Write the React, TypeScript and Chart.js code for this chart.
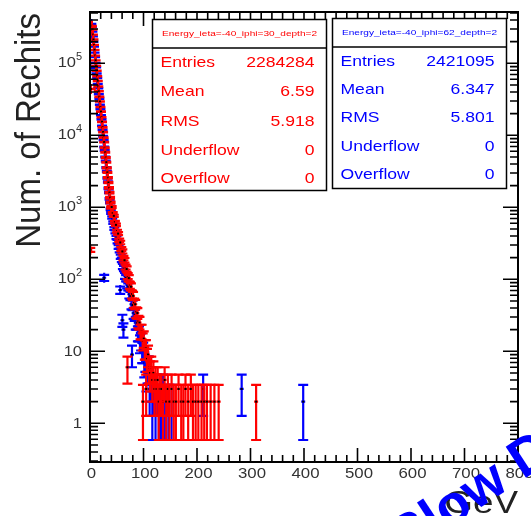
import React, { useEffect, useRef } from 'react';
import { Chart, registerables } from 'chart.js';

Chart.register(...registerables);

// ---------------- data (bin centre in GeV, bin content) ----------------
const blueX = [
  0.5, 1.5, 2.5, 3.5, 4.5, 5.5, 6.5, 7.5, 8.5, 9.5,
  10.5, 11.5, 12.5, 13.5, 14.5, 15.5, 16.5, 17.5, 18.5, 19.5,
  20.5, 21.5, 22.5, 23.5, 24.5, 25.5, 26.5, 27.5, 28.5, 29.5,
  30.5, 31.5, 32.5, 33.5, 34.5, 35.5, 36.5, 37.5, 38.5, 39.5,
  41.5, 43.5, 45.5, 47.5, 49.5, 51.5, 53.5, 55.5, 57.5, 59.5,
  61.5, 63.5, 65.5, 67.5, 69.5, 71.5, 73.5, 75.5, 77.5, 79.5,
  81.5, 83.5, 85.5, 87.5, 89.5, 91.5, 93.5, 95.5, 97.5, 99.5,
  101.5, 103.5, 105.5, 107.5,
  26.5, 56.5, 60.5, 62.5, 78.5,
  109.5, 111.5, 113.5, 116.5, 119.5, 122.5, 125.5, 128.5, 132.5, 136.5,
  140.5, 146.5, 152.5, 211.5, 283.5, 398.5,
];
const blueY = [
  86000, 246000, 352000, 321000, 276000, 236000, 199000, 171000, 141000, 122000,
  101000, 88000, 72000, 62500, 51800, 45200, 37100, 32300, 26600, 23100,
  19000, 16600, 13500, 11900, 9700, 8600, 6900, 6150, 5000, 4380,
  3560, 3150, 2560, 2250, 1830, 1610, 1310, 1170, 940, 840,
  720, 612, 508, 455, 381, 334, 281, 252, 206, 187,
  151, 142, 112, 104, 84, 79, 62, 59, 45, 44,
  34, 32, 25, 25, 18, 18, 13, 14, 10, 10,
  7, 8, 5, 6,
  105, 71, 27, 20, 9,
  6, 3, 4, 2, 3, 2, 3, 2, 2, 3,
  2, 2, 2, 3, 3, 2,
];

const redX = [
  0.5, 1.5, 2.5, 3.5, 4.5, 5.5, 6.5, 7.5, 8.5, 9.5,
  10.5, 11.5, 12.5, 13.5, 14.5, 15.5, 16.5, 17.5, 18.5, 19.5,
  20.5, 21.5, 22.5, 23.5, 24.5, 25.5, 26.5, 27.5, 28.5, 29.5,
  30.5, 31.5, 32.5, 33.5, 34.5, 35.5, 36.5, 37.5, 38.5, 39.5,
  40.5, 42.5, 44.5, 46.5, 48.5, 50.5, 52.5, 54.5, 56.5, 58.5,
  60.5, 62.5, 64.5, 66.5, 68.5, 70.5, 72.5, 74.5, 76.5, 78.5,
  80.5, 82.5, 84.5, 86.5, 88.5, 90.5, 92.5, 94.5, 96.5, 98.5,
  100.5, 102.5, 104.5, 106.5, 108.5, 110.5,
  70.0, 99.0, 105.0,
  112.5, 114.5, 116.5, 118.5, 120.5, 122.5, 124.5, 126.5, 128.5, 130.5,
  133.5, 136.5, 139.5, 142.5, 145.5, 148.5, 152.5, 156.5, 160.5, 165.5,
  170.5, 174.5, 178.5, 183.5, 188.5, 192.5, 197.5, 202.5, 208.5, 213.5,
  218.5, 225.5, 232.5, 240.5, 310.5,
];
const redY = [
  257, 44000, 318000, 332000, 293000, 250000, 214000, 180000, 154000, 128000,
  110000, 92000, 79000, 66000, 56600, 47500, 40800, 34200, 29400, 24700,
  21300, 17800, 15400, 12900, 11100, 9300, 8050, 6700, 5800, 4900,
  4230, 3520, 3050, 2570, 2210, 1860, 1600, 1360, 1170, 990,
  1010, 832, 761, 622, 570, 466, 431, 349, 325, 263,
  244, 197, 184, 148, 139, 111, 104, 83, 79, 62,
  59, 47, 45, 35, 34, 26, 25, 19, 19, 14,
  15, 11, 11, 8, 9, 6,
  6, 2, 3,
  5, 6, 4, 5, 3, 4, 3, 4, 2, 3,
  3, 2, 4, 2, 3, 2, 3, 2, 2, 3,
  2, 2, 3, 2, 3, 2, 2, 2, 2, 2,
  2, 2, 2, 2, 2,
];

const xTickValues = [0, 100, 200, 300, 400, 500, 600, 700, 800];
const xTickLabels = ['0', '100', '200', '300', '400', '500', '600', '700', '800'];
const yDecades = [0, 1, 2, 3, 4, 5];
const yDecadeLabels = [['1', ''], ['10', ''], ['10', '2'], ['10', '3'], ['10', '4'], ['10', '5']];

const redTitle = 'Energy_ieta=-40_iphi=30_depth=2';
const blueTitle = 'Energy_ieta=-40_iphi=62_depth=2';
const statNames = ['Entries', 'Mean', 'RMS', 'Underflow', 'Overflow'];
const redStatValues = ['2284284', '6.59', '5.918', '0', '0'];
const blueStatValues = ['2421095', '6.347', '5.801', '0', '0'];

const yTitle = 'Num. of Rechits';
const xTitle = 'GeV';
const watermark = 'Slow D';

const RED = 'rgb(255,0,0)';
const BLUE = 'rgb(0,0,255)';
const FONT = '"Liberation Sans", Arial, Helvetica, sans-serif';

function drawText(
  ctx: CanvasRenderingContext2D, text: string, x: number, y: number,
  font: string, color: string, align: CanvasTextAlign, sx = 1.15,
  baseline: CanvasTextBaseline = 'middle',
) {
  ctx.save();
  ctx.font = font;
  ctx.fillStyle = color;
  ctx.textAlign = align;
  ctx.textBaseline = baseline;
  ctx.translate(x, y);
  ctx.scale(sx, 1);
  ctx.fillText(text, 0, 0);
  ctx.restore();
}

function drawStatBox(
  ctx: CanvasRenderingContext2D, left: number, top: number, right: number, bottom: number,
  sep: number, title: string, values: string[], rows: number[], color: string,
) {
  ctx.save();
  ctx.fillStyle = '#fff';
  ctx.fillRect(left, top, right - left, bottom - top);
  ctx.strokeStyle = '#000';
  ctx.lineWidth = 1.5;
  ctx.strokeRect(left, top, right - left, bottom - top);
  ctx.beginPath();
  ctx.moveTo(left, sep);
  ctx.lineTo(right, sep);
  ctx.stroke();
  ctx.font = `8px ${FONT}`;
  const w = ctx.measureText(title).width;
  const sx = 155 / w;
  drawText(ctx, title, (left + right) / 2, (top + sep) / 2, `8px ${FONT}`, color, 'center', sx);
  statNames.forEach((n, i) => {
    drawText(ctx, n, left + 8, rows[i], `15px ${FONT}`, color, 'left', 1.17);
    drawText(ctx, values[i], right - 12, rows[i], `15px ${FONT}`, color, 'right', 1.17);
  });
  ctx.restore();
}

const rootPlugin = {
  id: 'rootStyle',
  afterDatasetsDraw(chart: any) {
    const { ctx, chartArea: a } = chart;
    const xs = chart.scales.x;
    const ys = chart.scales.y;
    ctx.save();
    ctx.beginPath();
    ctx.rect(a.left, a.top, a.right - a.left, a.bottom - a.top);
    ctx.clip();
    chart.data.datasets.forEach((ds: any) => {
      const color = ds.borderColor;
      ds.data.forEach((p: any) => {
        const px = xs.getPixelForValue(p.x);
        const py = ys.getPixelForValue(p.y);
        const e = Math.sqrt(p.y);
        const top = ys.getPixelForValue(p.y + e);
        const bot = p.y - e > 0 ? ys.getPixelForValue(p.y - e) : a.bottom + 5;
        ctx.strokeStyle = color;
        ctx.lineWidth = 2.2;
        ctx.beginPath();
        ctx.moveTo(px, Math.min(top, py - 5));
        ctx.lineTo(px, Math.max(bot, py + 5));
        ctx.moveTo(px - 5, top);
        ctx.lineTo(px + 5, top);
        ctx.moveTo(px - 5, bot);
        ctx.lineTo(px + 5, bot);
        ctx.moveTo(px - 2, py);
        ctx.lineTo(px + 2, py);
        ctx.stroke();
        ctx.fillStyle = '#000';
        ctx.fillRect(px - 1, py - 1, 2, 2);
      });
    });
    ctx.restore();
  },
  afterDraw(chart: any) {
    const { ctx, chartArea: a } = chart;
    const xs = chart.scales.x;
    const ys = chart.scales.y;
    ctx.save();
    ctx.strokeStyle = '#000';
    ctx.lineWidth = 2;
    ctx.strokeRect(a.left, a.top, a.right - a.left, a.bottom - a.top);

    ctx.lineWidth = 1.6;
    ctx.beginPath();
    for (let v = 0; v <= 800; v += 20) {
      const px = xs.getPixelForValue(v);
      const len = v % 100 === 0 ? 14 : 7;
      ctx.moveTo(px, a.bottom);
      ctx.lineTo(px, a.bottom - len);
      ctx.moveTo(px, a.top);
      ctx.lineTo(px, a.top + len);
    }
    for (let d = -1; d <= 5; d++) {
      for (let m = 1; m <= 9; m++) {
        const v = m * Math.pow(10, d);
        if (v < ys.min || v > ys.max) continue;
        const py = ys.getPixelForValue(v);
        const len = m === 1 ? 15 : 8;
        ctx.moveTo(a.left, py);
        ctx.lineTo(a.left + len, py);
        ctx.moveTo(a.right, py);
        ctx.lineTo(a.right - len, py);
      }
    }
    ctx.stroke();

    xTickValues.forEach((v, i) => {
      drawText(ctx, xTickLabels[i], xs.getPixelForValue(v) + 1.5, 474, `15px ${FONT}`, '#333', 'center', 1.12);
    });
    yDecades.forEach((d, i) => {
      const py = ys.getPixelForValue(Math.pow(10, d));
      const [base, exp] = yDecadeLabels[i];
      if (exp) {
        drawText(ctx, exp, 76, py - 6, `10px ${FONT}`, '#333', 'left', 1.1);
        drawText(ctx, base, 76, py, `15px ${FONT}`, '#333', 'right', 1.1);
      } else {
        drawText(ctx, base, 82, py + 1, `15px ${FONT}`, '#333', 'right', 1.1);
      }
    });

    drawStatBox(ctx, 152.5, 19.5, 326.5, 190.5, 48, redTitle, redStatValues, [63, 92, 121.5, 150.5, 178.5], RED);
    drawStatBox(ctx, 332.5, 18.5, 506.5, 188.5, 47, blueTitle, blueStatValues, [61.5, 90, 118, 146.5, 175], BLUE);

    ctx.save();
    ctx.translate(40, 13);
    ctx.scale(1.08, 1);
    ctx.rotate(-Math.PI / 2);
    ctx.font = `33px ${FONT}`;
    ctx.fillStyle = '#222';
    ctx.textAlign = 'right';
    ctx.textBaseline = 'alphabetic';
    ctx.fillText(yTitle, 0, 0);
    ctx.restore();

    drawText(ctx, xTitle, 518, 513, `32px ${FONT}`, '#222', 'right', 1.15, 'alphabetic');

    ctx.save();
    ctx.translate(405, 557);
    ctx.rotate(-0.58);
    ctx.font = `bold 54px ${FONT}`;
    ctx.fillStyle = BLUE;
    ctx.textAlign = 'left';
    ctx.textBaseline = 'alphabetic';
    ctx.fillText(watermark, 0, 0);
    ctx.restore();

    ctx.restore();
  },
};

export default function App() {
  const ref = useRef<HTMLCanvasElement | null>(null);
  useEffect(() => {
    if (!ref.current) return;
    const chart = new Chart(ref.current, {
      type: 'scatter',
      data: {
        datasets: [
          { label: 'blue', data: blueX.map((x, i) => ({ x, y: blueY[i] })), borderColor: BLUE, backgroundColor: BLUE, pointRadius: 0, showLine: false },
          { label: 'red', data: redX.map((x, i) => ({ x, y: redY[i] })), borderColor: RED, backgroundColor: RED, pointRadius: 0, showLine: false },
        ],
      },
      options: {
        animation: false,
        responsive: false,
        maintainAspectRatio: false,
        events: [],
        layout: { padding: { left: 90, right: 13, top: 12, bottom: 54 } },
        plugins: { legend: { display: false }, tooltip: { enabled: false }, title: { display: false } },
        scales: {
          x: { type: 'linear', min: 0, max: 800, display: false },
          y: { type: 'logarithmic', min: 0.29, max: 516000, display: false },
        },
      },
      plugins: [rootPlugin],
    });
    return () => chart.destroy();
  }, []);
  return (
    <div style={{ position: 'fixed', left: 0, top: 0, width: 531, height: 516, background: '#fff', overflow: 'hidden' }}>
      <canvas ref={ref} width={531} height={516} style={{ display: 'block' }} />
    </div>
  );
}
